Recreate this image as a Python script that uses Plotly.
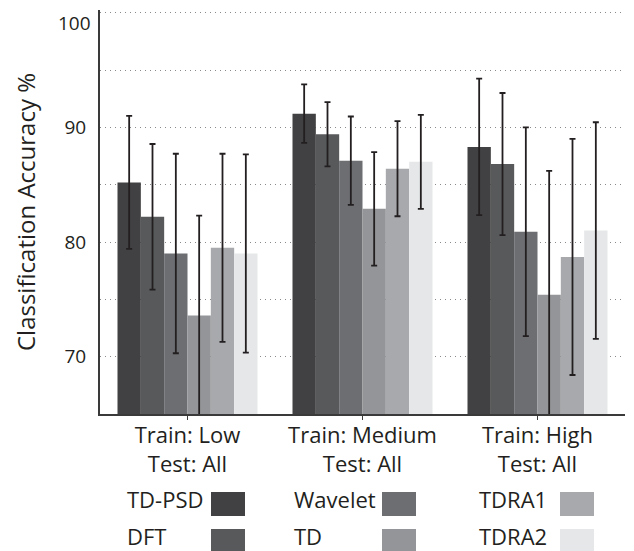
import plotly.graph_objects as go

# ---------------- data ----------------
categories = ["Train: Low<br>Test: All", "Train: Medium<br>Test: All", "Train: High<br>Test: All"]
methods = ["TD-PSD", "DFT", "Wavelet", "TD", "TDRA1", "TDRA2"]

td_psd = [85.2, 91.2, 88.3]
dft = [82.2, 89.4, 86.8]
wavelet = [79.0, 87.1, 80.9]
td = [73.6, 82.9, 75.4]
tdra1 = [79.5, 86.4, 78.7]
tdra2 = [79.0, 87.0, 81.0]

td_psd_err = [5.8, 2.55, 5.95]
dft_err = [6.35, 2.8, 6.2]
wavelet_err = [8.7, 3.85, 9.1]
td_err = [8.7, 4.95, 10.8]
tdra1_err = [8.2, 4.15, 10.3]
tdra2_err = [8.65, 4.1, 9.45]

y_tickvals = [65, 70, 75, 80, 85, 90, 95, 100]
y_ticktext = ["", "70", "", "80", "", "90", "", ""]
y_top_value = 100
y_top_label = "100"  # drawn slightly below its gridline, as in the original

# ---------------- style ----------------
colors = ["#414042", "#58595b", "#6d6e71", "#939598", "#a7a9ac", "#e6e7e8"]
series = [td_psd, dft, wavelet, td, tdra1, tdra2]
errors = [td_psd_err, dft_err, wavelet_err, td_err, tdra1_err, tdra2_err]
INK = "#231f20"
FONT = "Open Sans"

OFF = 8  # default page body margin
W, H = 634 - OFF, 551 - OFF
ML, MR, MT, MB = 100 - OFF, 9, 10 - OFF, 137
PW = W - ML - MR
PH = H - MT - MB


def px_x(x):
    # page pixel -> paper coordinate
    return (x - OFF - ML) / PW


def px_y(y):
    return (H - MB - (y - OFF)) / PH


fig = go.Figure()
for name, vals, errs, col in zip(methods, series, errors, colors):
    fig.add_trace(go.Bar(
        x=categories, y=vals, name=name,
        marker=dict(color=col, line=dict(width=0)),
        error_y=dict(type="data", array=errs, visible=True,
                     color=INK, thickness=1.8, width=3),
        showlegend=False,
    ))

# custom legend: label then swatch, 3 columns x 2 rows
leg_text_x = [125, 292, 477]
leg_sw_x = [211, 382, 560]
leg_row_y = [492, 529]
sw_w, sw_h = 34, 24
annotations = []
shapes = []
for i, (name, col) in enumerate(zip(methods, colors)):
    c, r = i // 2, i % 2
    annotations.append(dict(
        x=px_x(leg_text_x[c]), y=px_y(leg_row_y[r] + sw_h / 2 - 5),
        xref="paper", yref="paper", xanchor="left", yanchor="middle",
        text=name, showarrow=False,
        font=dict(family=FONT, size=22, color=INK),
    ))
    shapes.append(dict(
        type="rect", xref="paper", yref="paper",
        x0=px_x(leg_sw_x[c]), x1=px_x(leg_sw_x[c] + sw_w),
        y0=px_y(leg_row_y[r]), y1=px_y(leg_row_y[r] + sw_h),
        fillcolor=col, line=dict(width=0),
    ))

# top tick label, nudged down so it is not clipped
annotations.append(dict(
    x=0, xref="paper", y=y_top_value, yref="y",
    xanchor="right", yanchor="middle", xshift=-7, yshift=-10,
    text=y_top_label, showarrow=False,
    font=dict(family=FONT, size=19, color=INK),
))

fig.update_layout(
    width=W, height=H,
    margin=dict(l=ML, r=MR, t=MT, b=MB, autoexpand=False),
    paper_bgcolor="white", plot_bgcolor="white",
    barmode="group", bargap=0.2, bargroupgap=0,
    font=dict(family=FONT, color=INK),
    annotations=annotations, shapes=shapes,
    xaxis=dict(
        range=[-0.5, 2.5], automargin=False,
        showline=True, linecolor="#3a3a3a", linewidth=2,
        ticks="outside", ticklen=4, tickcolor="#3a3a3a", tickwidth=1,
        ticklabelstandoff=-3,
        tickfont=dict(family=FONT, size=22, color=INK),
        showgrid=False, zeroline=False,
    ),
    yaxis=dict(
        range=[65, 100.24], automargin=False,
        tickvals=y_tickvals, ticktext=y_ticktext,
        showline=True, linecolor="#3a3a3a", linewidth=2,
        ticks="", ticklabelstandoff=8,
        tickfont=dict(family=FONT, size=19, color=INK),
        showgrid=True, gridcolor="#8a8a8a", gridwidth=1, griddash="1px,4px",
        zeroline=False,
        title=dict(text="Classification Accuracy %", standoff=22,
                   font=dict(family=FONT, size=24, color=INK)),
    ),
)

fig.write_html("out.html")
